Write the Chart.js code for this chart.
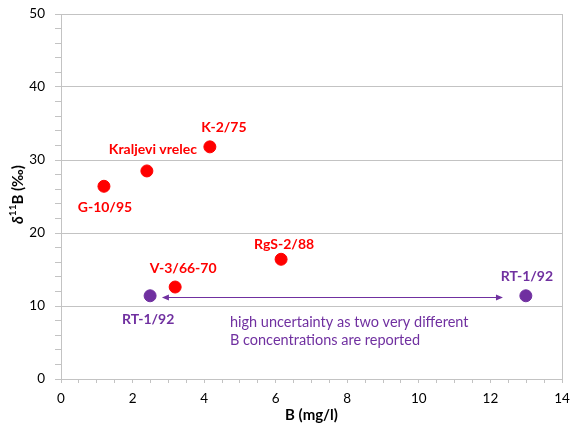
<!DOCTYPE html>
<html>
<head>
<meta charset="utf-8">
<script src="https://cdn.jsdelivr.net/npm/chart.js@4.4.1/dist/chart.umd.min.js"></script>
<style>
  html, body { margin: 0; padding: 0; background: #fff; }
  #wrap { width: 570px; height: 428px; }
</style>
</head>
<body>
<div id="wrap"><canvas id="boron" width="570" height="428"></canvas></div>
<script>
/* delta11B vs B concentration */
const redNames = ['G-10/95', 'Kraljevi vrelec', 'K-2/75', 'V-3/66-70', 'RgS-2/88'];
const redB = [1.2, 2.4, 4.16, 3.19, 6.15];
const redDelta = [26.4, 28.5, 31.8, 12.6, 16.4];

const rtNames = ['RT-1/92', 'RT-1/92'];
const rtB = [2.49, 12.99];
const rtDelta = [11.4, 11.4];

// double arrow between the two RT-1/92 values
const arrowB = [2.82, 12.35];
const arrowDelta = 11.3;
const noteLines = ['high uncertainty as two very different', 'B concentrations are reported'];

const xRange = [0, 14];
const yRange = [0, 50];

const RED = '#ff0000';
const PURPLE = '#7030a0';
const GRID = '#c3c3c3';
const FONT = 'Lato';

// label offsets from point centre (px)
const redOffsets = [[1, 21], [6, -21], [14, -19], [8, -19], [3, -15]];
const rtOffsets = [[-2, 24], [1, -19]];

const labelsPlugin = {
    id: 'pointLabels',
    beforeDatasetsDraw: function (chart) {
        // right frame line
        const a = chart.chartArea, ctx = chart.ctx;
        ctx.save();
        ctx.strokeStyle = GRID;
        ctx.lineWidth = 1;
        ctx.beginPath();
        ctx.moveTo(Math.round(a.right) + 0.5, a.top);
        ctx.lineTo(Math.round(a.right) + 0.5, a.bottom);
        ctx.stroke();
        ctx.restore();
    },
    afterDatasetsDraw: function (chart) {
        const ctx = chart.ctx;
        const x = chart.scales.x, y = chart.scales.y;
        ctx.save();
        ctx.textAlign = 'center';
        ctx.textBaseline = 'middle';
        ctx.font = 'bold 14px ' + FONT;
        ctx.fillStyle = RED;
        redNames.forEach(function (name, i) {
            ctx.fillText(name, x.getPixelForValue(redB[i]) + redOffsets[i][0], y.getPixelForValue(redDelta[i]) + redOffsets[i][1]);
        });
        ctx.fillStyle = PURPLE;
        rtNames.forEach(function (name, i) {
            ctx.fillText(name, x.getPixelForValue(rtB[i]) + rtOffsets[i][0], y.getPixelForValue(rtDelta[i]) + rtOffsets[i][1]);
        });

        // arrow
        const x1 = x.getPixelForValue(arrowB[0]), x2 = x.getPixelForValue(arrowB[1]);
        const ay = Math.round(y.getPixelForValue(arrowDelta)) + 0.5;
        ctx.strokeStyle = PURPLE;
        ctx.lineWidth = 1;
        ctx.beginPath();
        ctx.moveTo(x1 + 3, ay);
        ctx.lineTo(x2 - 3, ay);
        ctx.stroke();
        ctx.beginPath();
        ctx.moveTo(x1, ay); ctx.lineTo(x1 + 7, ay - 3); ctx.lineTo(x1 + 7, ay + 3); ctx.closePath();
        ctx.moveTo(x2, ay); ctx.lineTo(x2 - 7, ay - 3); ctx.lineTo(x2 - 7, ay + 3); ctx.closePath();
        ctx.fill();

        // note text
        ctx.textAlign = 'left';
        ctx.font = '14.5px ' + FONT;
        noteLines.forEach(function (line, i) {
            ctx.fillText(line, x1 + 68, ay + 25 + i * 18);
        });

        // y title: italic delta, superscript 11
        const area = chart.chartArea;
        ctx.translate(18, (area.top + area.bottom) / 2 - 2);
        ctx.rotate(-Math.PI / 2);
        ctx.fillStyle = '#000';
        ctx.textAlign = 'left';
        const parts = [
            ['italic bold 15px ' + FONT, '\u03b4', 0],
            ['bold 10px ' + FONT, '11', -5],
            ['bold 15px ' + FONT, 'B (\u2030)', 0]
        ];
        let total = 0;
        parts.forEach(function (p) { ctx.font = p[0]; total += ctx.measureText(p[1]).width; });
        let px = -total / 2;
        parts.forEach(function (p) {
            ctx.font = p[0];
            ctx.fillText(p[1], px, p[2]);
            px += ctx.measureText(p[1]).width;
        });
        ctx.restore();
    }
};

new Chart(document.getElementById('boron').getContext('2d'), {
    type: 'scatter',
    data: {
        datasets: [{
            label: 'samples',
            data: redB.map(function (b, i) { return {x: b, y: redDelta[i]}; }),
            backgroundColor: RED,
            borderColor: RED,
            pointRadius: 6,
            pointHoverRadius: 6
        }, {
            label: 'RT-1/92',
            data: rtB.map(function (b, i) { return {x: b, y: rtDelta[i]}; }),
            backgroundColor: PURPLE,
            borderColor: PURPLE,
            pointRadius: 6,
            pointHoverRadius: 6
        }]
    },
    options: {
        responsive: false,
        animation: false,
        layout: {padding: {top: 14, right: 0, left: 0, bottom: 0}},
        plugins: {legend: {display: false}, tooltip: {enabled: false}},
        scales: {
            x: {
                type: 'linear',
                min: xRange[0],
                max: xRange[1],
                afterFit: function (s) {
                    s.height = 49;
                    s.paddingLeft = 0;
                    s.paddingRight = 8;
                },
                border: {display: true, color: GRID},
                grid: {
                    color: 'rgba(0,0,0,0)',
                    tickColor: GRID,
                    tickLength: 4
                },
                ticks: {
                    stepSize: 0.5,
                    autoSkip: false,
                    maxRotation: 0,
                    padding: 8,
                    color: '#000',
                    font: {family: FONT, size: 13.5},
                    callback: function (v) { return v % 2 === 0 ? v : ''; }
                },
                title: {
                    display: true,
                    text: 'B (mg/l)',
                    color: '#000',
                    font: {family: FONT, size: 15, weight: 'bold'},
                    padding: {top: 0}
                }
            },
            y: {
                type: 'linear',
                min: yRange[0],
                max: yRange[1],
                afterFit: function (s) {
                    s.width = 61;
                    s.paddingTop = 0;
                    s.paddingBottom = 0;
                },
                border: {display: true, color: GRID},
                grid: {
                    color: function (c) { return c.tick && c.tick.value % 10 === 0 ? GRID : 'rgba(0,0,0,0)'; },
                    tickColor: GRID,
                    tickLength: 6
                },
                ticks: {
                    stepSize: 2,
                    autoSkip: false,
                    padding: 10,
                    color: '#000',
                    font: {family: FONT, size: 13.5},
                    callback: function (v) { return v % 10 === 0 ? v : ''; }
                }
            }
        }
    },
    plugins: [labelsPlugin]
});
</script>
</body>
</html>
